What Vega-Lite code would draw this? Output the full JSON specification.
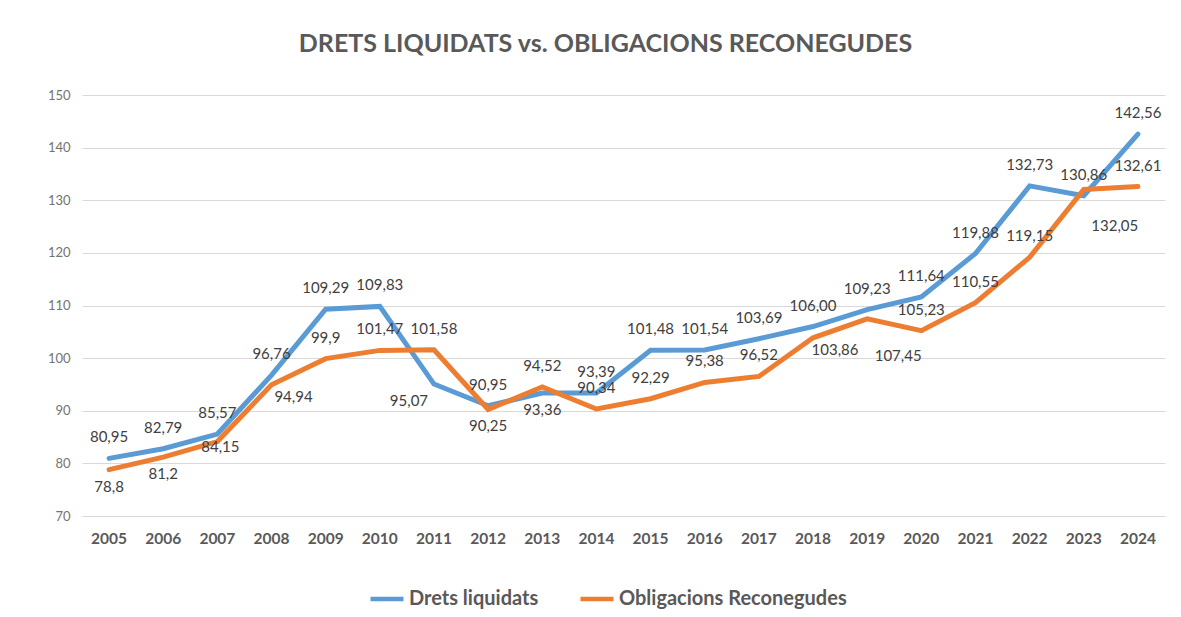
{
  "$schema": "https://vega.github.io/schema/vega-lite/v6.json",
  "autosize": {"type": "none"},
  "width": 1083,
  "height": 421,
  "padding": {"left": 82, "top": 95, "right": 16, "bottom": 101},
  "background": "white",
  "title": {
    "text": "DRETS LIQUIDATS vs. OBLIGACIONS RECONEGUDES",
    "font": "Lato",
    "fontSize": 25,
    "fontWeight": "bold",
    "color": "#595959",
    "anchor": "middle",
    "dx": -18,
    "offset": 32
  },
  "config": {
    "view": {"stroke": null},
    "font": "Lato"
  },
  "data": {
    "values": [
      {"year": "2005", "series": "Drets liquidats", "value": 80.95, "label": "80,95"},
      {"year": "2006", "series": "Drets liquidats", "value": 82.79, "label": "82,79"},
      {"year": "2007", "series": "Drets liquidats", "value": 85.57, "label": "85,57"},
      {"year": "2008", "series": "Drets liquidats", "value": 96.76, "label": "96,76"},
      {"year": "2009", "series": "Drets liquidats", "value": 109.29, "label": "109,29"},
      {"year": "2010", "series": "Drets liquidats", "value": 109.83, "label": "109,83"},
      {"year": "2011", "series": "Drets liquidats", "value": 95.07, "label": "95,07"},
      {"year": "2012", "series": "Drets liquidats", "value": 90.95, "label": "90,95"},
      {"year": "2013", "series": "Drets liquidats", "value": 93.36, "label": "93,36"},
      {"year": "2014", "series": "Drets liquidats", "value": 93.39, "label": "93,39"},
      {"year": "2015", "series": "Drets liquidats", "value": 101.48, "label": "101,48"},
      {"year": "2016", "series": "Drets liquidats", "value": 101.54, "label": "101,54"},
      {"year": "2017", "series": "Drets liquidats", "value": 103.69, "label": "103,69"},
      {"year": "2018", "series": "Drets liquidats", "value": 106.0, "label": "106,00"},
      {"year": "2019", "series": "Drets liquidats", "value": 109.23, "label": "109,23"},
      {"year": "2020", "series": "Drets liquidats", "value": 111.64, "label": "111,64"},
      {"year": "2021", "series": "Drets liquidats", "value": 119.88, "label": "119,88"},
      {"year": "2022", "series": "Drets liquidats", "value": 132.73, "label": "132,73"},
      {"year": "2023", "series": "Drets liquidats", "value": 130.86, "label": "130,86"},
      {"year": "2024", "series": "Drets liquidats", "value": 142.56, "label": "142,56"},
      {"year": "2005", "series": "Obligacions Reconegudes", "value": 78.8, "label": "78,8"},
      {"year": "2006", "series": "Obligacions Reconegudes", "value": 81.2, "label": "81,2"},
      {"year": "2007", "series": "Obligacions Reconegudes", "value": 84.15, "label": "84,15"},
      {"year": "2008", "series": "Obligacions Reconegudes", "value": 94.94, "label": "94,94"},
      {"year": "2009", "series": "Obligacions Reconegudes", "value": 99.9, "label": "99,9"},
      {"year": "2010", "series": "Obligacions Reconegudes", "value": 101.47, "label": "101,47"},
      {"year": "2011", "series": "Obligacions Reconegudes", "value": 101.58, "label": "101,58"},
      {"year": "2012", "series": "Obligacions Reconegudes", "value": 90.25, "label": "90,25"},
      {"year": "2013", "series": "Obligacions Reconegudes", "value": 94.52, "label": "94,52"},
      {"year": "2014", "series": "Obligacions Reconegudes", "value": 90.34, "label": "90,34"},
      {"year": "2015", "series": "Obligacions Reconegudes", "value": 92.29, "label": "92,29"},
      {"year": "2016", "series": "Obligacions Reconegudes", "value": 95.38, "label": "95,38"},
      {"year": "2017", "series": "Obligacions Reconegudes", "value": 96.52, "label": "96,52"},
      {"year": "2018", "series": "Obligacions Reconegudes", "value": 103.86, "label": "103,86"},
      {"year": "2019", "series": "Obligacions Reconegudes", "value": 107.45, "label": "107,45"},
      {"year": "2020", "series": "Obligacions Reconegudes", "value": 105.23, "label": "105,23"},
      {"year": "2021", "series": "Obligacions Reconegudes", "value": 110.55, "label": "110,55"},
      {"year": "2022", "series": "Obligacions Reconegudes", "value": 119.15, "label": "119,15"},
      {"year": "2023", "series": "Obligacions Reconegudes", "value": 132.05, "label": "132,05"},
      {"year": "2024", "series": "Obligacions Reconegudes", "value": 132.61, "label": "132,61"}
    ]
  },
  "encoding": {
    "x": {
      "field": "year",
      "type": "ordinal",
      "scale": {"type": "band", "paddingInner": 0, "paddingOuter": 0},
      "axis": {
        "title": null,
        "labelAngle": 0,
        "labelFont": "Lato",
        "labelFontSize": 15.5,
        "labelFontWeight": "bold",
        "labelColor": "#595959",
        "labelPadding": 15,
        "ticks": false,
        "domain": false,
        "grid": false
      }
    },
    "y": {
      "field": "value",
      "type": "quantitative",
      "scale": {"domain": [70, 150], "nice": false, "zero": false},
      "axis": {
        "title": null,
        "values": [70, 80, 90, 100, 110, 120, 130, 140, 150],
        "labelFont": "Lato",
        "labelFontSize": 13,
        "labelColor": "#737373",
        "labelPadding": 12,
        "ticks": false,
        "domain": false,
        "grid": true,
        "gridColor": "#d9d9d9",
        "gridWidth": 1.2
      }
    }
  },
  "layer": [
    {
      "mark": {"type": "line", "strokeWidth": 5, "strokeCap": "round", "strokeJoin": "miter"},
      "encoding": {
        "color": {
          "field": "series",
          "type": "nominal",
          "scale": {"domain": ["Drets liquidats", "Obligacions Reconegudes"], "range": ["#5B9BD5", "#ED7D31"]},
          "legend": {
            "title": null,
            "orient": "none",
            "direction": "horizontal",
            "legendX": 286,
            "legendY": 485,
            "symbolType": "stroke",
            "symbolSize": 1089,
            "symbolStrokeWidth": 4.5,
            "labelFont": "Lato",
            "labelFontSize": 20,
            "labelFontWeight": "bold",
            "labelColor": "#595959",
            "labelOffset": 3,
            "labelLimit": 0,
            "columnPadding": 32
          }
        }
      }
    },
    {
      "transform": [{"filter": "!((datum.series == 'Obligacions Reconegudes' && indexof(['2005','2006','2007','2008','2012','2018','2019','2023'], datum.year) >= 0) || (datum.series == 'Drets liquidats' && indexof(['2011','2013'], datum.year) >= 0))"}],
      "mark": {"type": "text", "dy": -21, "fontSize": 15, "color": "#404040", "font": "Lato"},
      "encoding": {"text": {"field": "label"}}
    },
    {
      "transform": [{"filter": "(datum.series == 'Obligacions Reconegudes' && indexof(['2005','2006','2012'], datum.year) >= 0) || (datum.series == 'Drets liquidats' && datum.year == '2013')"}],
      "mark": {"type": "text", "dy": 17, "fontSize": 15, "color": "#404040", "font": "Lato"},
      "encoding": {"text": {"field": "label"}}
    },
    {
      "transform": [{"filter": "datum.series == 'Drets liquidats' && datum.year == '2011'"}],
      "mark": {"type": "text", "dx": -25, "dy": 17, "fontSize": 15, "color": "#404040", "font": "Lato"},
      "encoding": {"text": {"field": "label"}}
    },
    {
      "transform": [{"filter": "datum.series == 'Obligacions Reconegudes' && datum.year == '2007'"}],
      "mark": {"type": "text", "dx": 3, "dy": 5, "fontSize": 15, "color": "#404040", "font": "Lato"},
      "encoding": {"text": {"field": "label"}}
    },
    {
      "transform": [{"filter": "datum.series == 'Obligacions Reconegudes' && indexof(['2008','2018'], datum.year) >= 0"}],
      "mark": {"type": "text", "dx": 22, "dy": 12, "fontSize": 15, "color": "#404040", "font": "Lato"},
      "encoding": {"text": {"field": "label"}}
    },
    {
      "transform": [{"filter": "datum.series == 'Obligacions Reconegudes' && indexof(['2019','2023'], datum.year) >= 0"}],
      "mark": {"type": "text", "dx": 31, "dy": 37, "fontSize": 15, "color": "#404040", "font": "Lato"},
      "encoding": {"text": {"field": "label"}}
    }
  ]
}
